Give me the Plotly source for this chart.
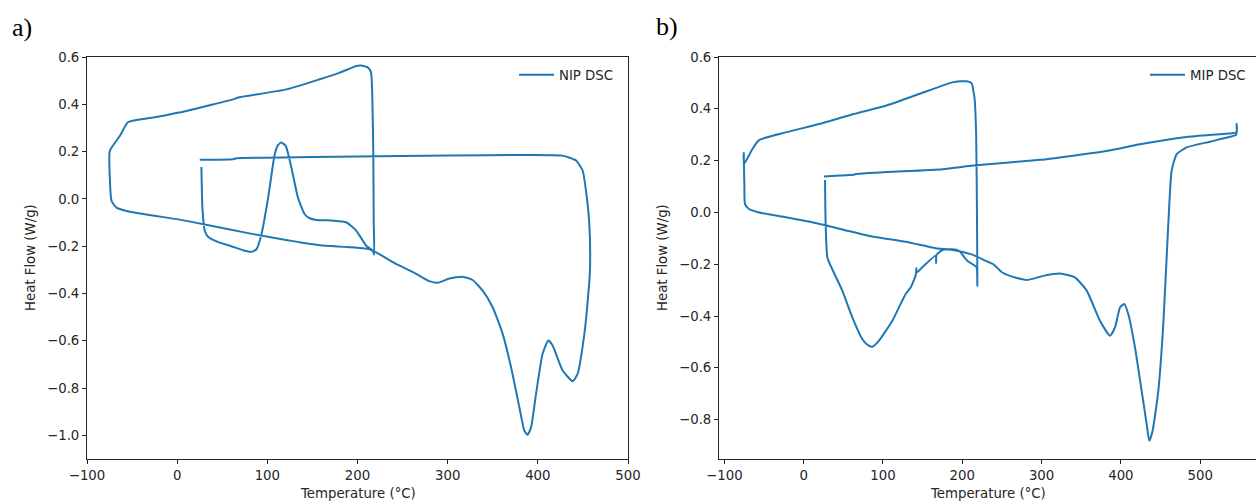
import plotly.graph_objects as go

# DSC run of the non-imprinted polymer (NIP): heat, cool, heat, cool
nip_temp = [
    26.9, 28.0, 30.6, 34.3, 47.0, 60.0, 73.0, 82.4, 88.0, 93.5, 100.9, 108.2, 112.0, 115.6,
    120.4, 126.7, 134.0, 141.5, 147.0, 154.4, 173.0, 187.5, 198.5, 209.9, 216.9, 218.5,
    218.0, 217.5, 216.5, 215.0, 211.3, 204.0, 198.8, 180.3, 158.1, 121.2, 67.0, 63.0, 10.3,
    -26.6, -54.3, -63.6, -74.7,
    -74.7, -72.8, -67.3, -56.2, 10.3, 84.3, 158.1, 213.2, 242.8, 265.0, 279.7, 289.0, 301.9,
    316.6, 327.7, 338.8, 349.9, 361.0, 370.3, 379.5, 385.0, 388.7, 392.5, 398.0, 405.3, 411.6,
    416.4, 427.5, 438.6, 444.1, 451.6, 456.3, 457.9, 457.1, 453.4, 449.7, 442.4, 427.5,
    390.6, 300.0, 200.0, 100.0, 66.0, 62.0, 25.0,
]
nip_heat_flow = [
    0.135, -0.037, -0.135, -0.160, -0.185, -0.200, -0.217, -0.224, -0.213, -0.150, 0.005, 0.189, 0.228, 0.238,
    0.224, 0.132, 0.005, -0.065, -0.082, -0.089, -0.092, -0.099, -0.134, -0.199, -0.219, -0.236,
    -0.100, 0.200, 0.416, 0.535, 0.556, 0.564, 0.562, 0.534, 0.506, 0.463, 0.428, 0.422, 0.372,
    0.344, 0.325, 0.266, 0.203,
    0.090, -0.008, -0.037, -0.051, -0.093, -0.149, -0.196, -0.213, -0.275, -0.317, -0.348, -0.355, -0.337,
    -0.329, -0.343, -0.388, -0.458, -0.571, -0.712, -0.881, -0.980, -0.997, -0.966, -0.825, -0.655, -0.599,
    -0.620, -0.726, -0.771, -0.740, -0.571, -0.388, -0.289, -0.106, 0.035, 0.120, 0.162, 0.183,
    0.186, 0.183, 0.179, 0.174, 0.172, 0.168, 0.165,
]

# DSC run of the molecularly imprinted polymer (MIP)
mip_temp = [
    26.9, 27.7, 29.8, 34.0, 48.7, 61.3, 73.9, 80.0, 86.5, 95.0, 111.8, 128.6, 134.9, 141.5,
    142.0, 142.5, 149.6, 166.5, 167.0, 167.5, 174.8, 187.4, 195.8, 206.3, 216.0, 218.2, 219.0,
    218.5, 217.5, 215.5, 213.9, 211.9, 205.6, 197.1, 187.4, 145.4, 103.4, 63.4, 19.3, -22.7,
    -56.4, -64.8, -75.3, -75.6, -75.3,
    -74.8, -74.0, -69.0, -56.4, -22.7, 15.1, 86.5, 128.6, 166.5, 187.4, 212.6, 229.5, 239.1,
    250.4, 260.1, 281.2, 302.1, 323.2, 342.1, 356.9, 373.6, 386.3, 392.6, 398.9, 404.3, 409.4,
    417.8, 426.2, 432.5, 435.8, 440.0, 447.2, 453.5, 459.8, 464.0, 470.4, 483.0, 512.4, 537.6,
    545.5, 546.0, 546.0,
    540.0, 483.0, 424.0, 382.0, 298.0, 258.9, 213.9, 174.8, 65.6, 63.0, 40.4, 25.6,
]
mip_heat_flow = [
    0.125, -0.045, -0.174, -0.206, -0.302, -0.405, -0.489, -0.510, -0.519, -0.495, -0.418, -0.315, -0.290, -0.240,
    -0.215, -0.232, -0.212, -0.167, -0.195, -0.165, -0.145, -0.142, -0.148, -0.187, -0.206, -0.212, -0.283,
    0.000, 0.300, 0.440, 0.470, 0.498, 0.506, 0.506, 0.502, 0.457, 0.412, 0.380, 0.341, 0.309,
    0.279, 0.244, 0.187, 0.232, 0.180,
    0.100, 0.032, 0.013, 0.000, -0.019, -0.041, -0.093, -0.113, -0.138, -0.145, -0.163, -0.187, -0.200,
    -0.232, -0.245, -0.261, -0.245, -0.236, -0.251, -0.302, -0.418, -0.476, -0.444, -0.367, -0.354, -0.393,
    -0.521, -0.689, -0.817, -0.882, -0.843, -0.689, -0.431, -0.045, 0.161, 0.225, 0.251, 0.273, 0.292,
    0.300, 0.342, 0.310,
    0.306, 0.291, 0.263, 0.237, 0.203, 0.193, 0.181, 0.167, 0.148, 0.145, 0.142, 0.139,
]

x_ticks = [-100, 0, 100, 200, 300, 400, 500]
y_ticks_a = [-1.0, -0.8, -0.6, -0.4, -0.2, 0.0, 0.2, 0.4, 0.6]
y_ticks_b = [-0.8, -0.6, -0.4, -0.2, 0.0, 0.2, 0.4, 0.6]

W, H = 1256, 502
BLUE = "#1f77b4"
TEXT = "#262626"
TICK_FONT = dict(family="DejaVu Sans", size=13.3, color=TEXT)


def fmt(v, nd):
    return f"{v:.{nd}f}".replace("-", "\u2212")


def px_x(p):
    return p / W


def px_y(p):
    return (H - p) / H


line_style = dict(color=BLUE, width=2, shape="spline", smoothing=0.5)

fig = go.Figure()
fig.add_trace(go.Scatter(x=nip_temp, y=nip_heat_flow, mode="lines", name="NIP DSC",
                         line=line_style, xaxis="x", yaxis="y", legend="legend"))
fig.add_trace(go.Scatter(x=mip_temp, y=mip_heat_flow, mode="lines", name="MIP DSC",
                         line=line_style, xaxis="x2", yaxis="y2", legend="legend2"))

axis_common = dict(showgrid=False, zeroline=False, showline=True, linecolor=TEXT, linewidth=1,
                   mirror=True, ticks="outside", ticklen=4, tickwidth=1, tickcolor=TEXT,
                   tickfont=TICK_FONT, automargin=False)

top, bottom = px_y(57), px_y(459)
legend_font = dict(family="DejaVu Sans", size=13.3, color=TEXT)

fig.update_layout(
    width=W, height=H, margin=dict(l=0, r=0, t=0, b=0, autoexpand=False),
    paper_bgcolor="white", plot_bgcolor="white",
    xaxis=dict(domain=[px_x(87), px_x(628)], range=[-100, 500], anchor="y",
               tickvals=x_ticks, ticktext=[fmt(v, 0) for v in x_ticks], **axis_common),
    yaxis=dict(domain=[bottom, top], range=[-1.1, 0.6], anchor="x",
               tickvals=y_ticks_a, ticktext=[fmt(v, 1) for v in y_ticks_a], **axis_common),
    xaxis2=dict(domain=[px_x(719), 1.0], range=[-106.8, 570.4], anchor="y2",
                tickvals=x_ticks, ticktext=[fmt(v, 0) for v in x_ticks], **axis_common),
    yaxis2=dict(domain=[bottom, top], range=[-0.952, 0.6], anchor="x2",
                tickvals=y_ticks_b, ticktext=[fmt(v, 1) for v in y_ticks_b], **axis_common),
    legend=dict(x=px_x(514), y=px_y(75), xanchor="left", yanchor="middle", itemwidth=35,
                bgcolor="rgba(0,0,0,0)", font=legend_font),
    legend2=dict(x=px_x(1145), y=px_y(75), xanchor="left", yanchor="middle", itemwidth=35,
                 bgcolor="rgba(0,0,0,0)", font=legend_font),
    showlegend=True,
)

label_font = dict(family="DejaVu Sans", size=13.3, color=TEXT)
annotations = [
    dict(text="Temperature (°C)", x=px_x(357.5), y=px_y(493), xref="paper", yref="paper",
         showarrow=False, xanchor="center", yanchor="middle", font=label_font),
    dict(text="Temperature (°C)", x=px_x(988), y=px_y(493), xref="paper", yref="paper",
         showarrow=False, xanchor="center", yanchor="middle", font=label_font),
    dict(text="Heat Flow (W/g)", x=px_x(30), y=px_y(258), xref="paper", yref="paper", textangle=-90,
         showarrow=False, xanchor="center", yanchor="middle", font=label_font),
    dict(text="Heat Flow (W/g)", x=px_x(662), y=px_y(258), xref="paper", yref="paper", textangle=-90,
         showarrow=False, xanchor="center", yanchor="middle", font=label_font),
    dict(text="a)", x=px_x(10), y=px_y(28), xref="paper", yref="paper", showarrow=False,
         xanchor="left", yanchor="middle", font=dict(family="Liberation Serif", size=26, color="black")),
    dict(text="b)", x=px_x(654), y=px_y(27), xref="paper", yref="paper", showarrow=False,
         xanchor="left", yanchor="middle", font=dict(family="Liberation Serif", size=26, color="black")),
]
fig.update_layout(annotations=annotations)

fig.write_html("out.html")
